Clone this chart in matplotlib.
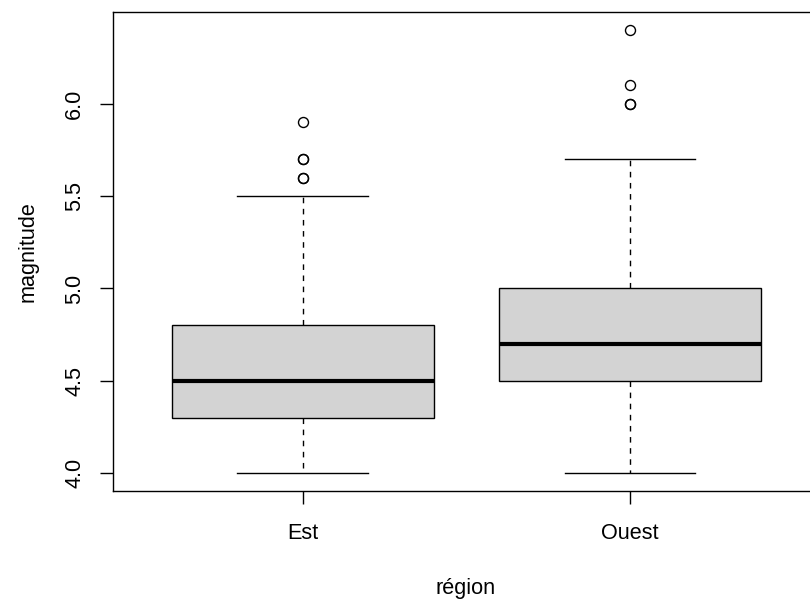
import matplotlib
matplotlib.use("Agg")
import matplotlib.pyplot as plt

plt.rcParams['font.family'] = ['Liberation Sans', 'DejaVu Sans']

# --- valeurs ---
regions = ["Est", "Ouest"]
whislo = [4.0, 4.0]
q1 = [4.3, 4.5]
med = [4.5, 4.7]
q3 = [4.8, 5.0]
whishi = [5.5, 5.7]
outliers = [[5.6, 5.6, 5.7, 5.7, 5.9], [6.0, 6.0, 6.1, 6.4]]
yticks = [4.0, 4.5, 5.0, 5.5, 6.0]

stats = []
for i in range(len(regions)):
    stats.append(dict(label=regions[i], whislo=whislo[i], q1=q1[i], med=med[i],
                      q3=q3[i], whishi=whishi[i], fliers=outliers[i]))

fs = 15.6

fig = plt.figure(figsize=(8.1, 6.0), dpi=100, facecolor="white")
# la figure d'origine est rognée à droite : l'axe dépasse le bord
ax = fig.add_axes([113 / 810, 109 / 600, (819.7 - 113) / 810, 479 / 600])

ax.bxp(stats, positions=[1, 2], widths=0.8, capwidths=0.4, patch_artist=True,
       boxprops=dict(facecolor="#D3D3D3", edgecolor="black", linewidth=1.0),
       whiskerprops=dict(color="black", linestyle=(0, (4, 4)), linewidth=1.0),
       capprops=dict(color="black", linewidth=1.0),
       medianprops=dict(color="black", linewidth=3.0, solid_capstyle="butt"),
       flierprops=dict(marker="o", markerfacecolor="none", markeredgecolor="black",
                       markersize=7.2, markeredgewidth=1.0))

ax.set_xlim(0.42, 2.58)
ax.set_ylim(3.904, 6.496)
ax.set_yticks(yticks)
ax.set_yticklabels(["{0:.1f}".format(v) for v in yticks], rotation=90, va="center")
ax.set_xticks([1, 2])
ax.set_xticklabels(regions)

for s in ax.spines.values():
    s.set_linewidth(1.0)

ax.tick_params(axis="both", direction="out", length=9.4, width=1.0, labelsize=fs,
               colors="black")
ax.tick_params(axis="y", pad=10.5)
ax.tick_params(axis="x", pad=13.5)

ax.set_xlabel("région", fontsize=fs)
ax.set_ylabel("magnitude", fontsize=fs)
ax.xaxis.set_label_coords((466 - 113) / 706.7, -0.181)
ax.yaxis.set_label_coords(-0.106, 0.5)

plt.savefig("out.png", dpi=100, facecolor="white")
